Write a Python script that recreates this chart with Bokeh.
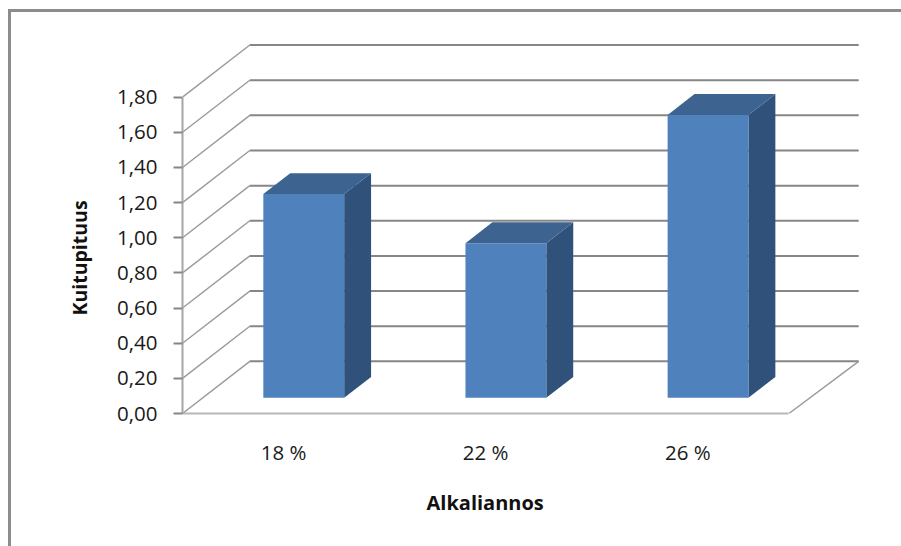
from bokeh.embed import file_html
from bokeh.models import FixedTicker, Range1d, Title
from bokeh.plotting import figure
from bokeh.resources import INLINE

# Chart data
categories = ["18 %", "22 %", "26 %"]
values = [1.16, 0.88, 1.61]
y_ticks = [0.0, 0.2, 0.4, 0.6, 0.8, 1.0, 1.2, 1.4, 1.6, 1.8]
y_tick_labels = ["0,00", "0,20", "0,40", "0,60", "0,80", "1,00", "1,20", "1,40", "1,60", "1,80"]

# Oblique projection of the 3D box, in axis units
PX_PER_CAT = 201.3
PX_PER_UNIT = 175.3
DEPTH_X = 67 / PX_PER_CAT
DEPTH_Y = 52 / PX_PER_UNIT
BACK_RIGHT_EXTRA = 2.5 / PX_PER_CAT
BAR_FRONT = 0.30
BAR_BACK = 0.70
BAR_WIDTH = 80.5 / PX_PER_CAT
N = len(categories)

FONT = "Open Sans"
GREY = "#868686"

# The page margin and the CSS border draw the chart area's open-ended edge
MARGIN_LEFT, MARGIN_TOP, EDGE = 8, 9, 3
FIG_W = 890
FIG_H = 534
BORDER_LEFT = 171
BORDER_BOTTOM = 136
FRAME_H = 400

p = figure(
    width=FIG_W, height=FIG_H,
    output_backend="svg", toolbar_location=None,
    x_range=Range1d(0, (FIG_W - BORDER_LEFT) / PX_PER_CAT),
    y_range=Range1d(0, FRAME_H / PX_PER_UNIT),
    min_border_left=BORDER_LEFT, min_border_right=0, min_border_top=0, min_border_bottom=BORDER_BOTTOM,
    outline_line_color=None, background_fill_color="white", border_fill_color="white",
)
p.margin = (MARGIN_TOP, 0, 0, MARGIN_LEFT)
p.styles = {
    "border-left": f"{EDGE}px solid #8c8c8c",
    "border-top": f"{EDGE}px solid #8c8c8c",
    "box-sizing": "content-box",
}
p.grid.visible = False

# Side wall and back wall gridlines
back_right = N + DEPTH_X + BACK_RIGHT_EXTRA
for v in y_ticks:
    p.line([0, DEPTH_X], [v, v + DEPTH_Y], line_color="#9a9a9a", line_width=1.4)
    p.line([DEPTH_X, back_right], [v + DEPTH_Y, v + DEPTH_Y], line_color=GREY, line_width=2)

# Right edge of the floor
p.line([N, back_right], [0, DEPTH_Y], line_color="#9a9a9a", line_width=1.4)

# Bars: side face, top face, then front face
for i, v in enumerate(values):
    left = i + 0.5 + DEPTH_X * BAR_FRONT - BAR_WIDTH / 2
    right = left + BAR_WIDTH
    base = DEPTH_Y * BAR_FRONT
    top = base + v
    dx = DEPTH_X * (BAR_BACK - BAR_FRONT)
    dy = DEPTH_Y * (BAR_BACK - BAR_FRONT)
    p.patch([right, right + dx, right + dx, right],
            [base, base + dy, top + dy, top],
            fill_color="#30527a", line_color=None)
    p.patch([left, left + dx, right + dx, right],
            [top, top + dy, top + dy, top],
            fill_color="#3d6390", line_color=None)
    p.quad(left=[left], right=[right], bottom=[base], top=[top],
           fill_color="#4f81bd", line_color=None)

# Value axis
ya = p.yaxis[0]
ya.ticker = FixedTicker(ticks=y_ticks)
ya.major_label_overrides = dict(zip(y_ticks, y_tick_labels))
ya.bounds = (y_ticks[0], y_ticks[-1])
ya.major_label_text_font = FONT
ya.major_label_text_font_size = "20.5px"
ya.major_label_text_color = "#1a1a1a"
ya.major_label_standoff = 16
ya.major_tick_out = 9
ya.major_tick_in = 0
ya.minor_tick_out = 0
ya.minor_tick_in = 0
ya.major_tick_line_color = GREY
ya.major_tick_line_width = 2
ya.axis_line_color = "#a6a6a6"
ya.axis_line_width = 2

# Category axis
xa = p.xaxis[0]
centers = [i + 0.5 for i in range(N)]
xa.ticker = FixedTicker(ticks=centers)
xa.major_label_overrides = dict(zip(centers, categories))
xa.bounds = (0, N)
xa.major_label_text_font = FONT
xa.major_label_text_font_size = "20.5px"
xa.major_label_text_color = "#1a1a1a"
xa.major_label_standoff = 24
xa.major_tick_out = 0
xa.major_tick_in = 0
xa.minor_tick_out = 0
xa.minor_tick_in = 0
xa.axis_line_color = "#b8b8b8"
xa.axis_line_width = 2

# Axis titles, offset along each axis so they centre on its bounds
p.add_layout(Title(
    text="Alkaliannos", align="left", offset=244, standoff=36,
    text_font=FONT, text_font_style="bold", text_font_size="20px", text_color="#111111",
), "below")
p.add_layout(Title(
    text="Kuitupituus", align="left", offset=98, standoff=44,
    text_font=FONT, text_font_style="bold", text_font_size="19.5px", text_color="#111111",
), "left")

open("out.html", "w").write(file_html(p, INLINE))
